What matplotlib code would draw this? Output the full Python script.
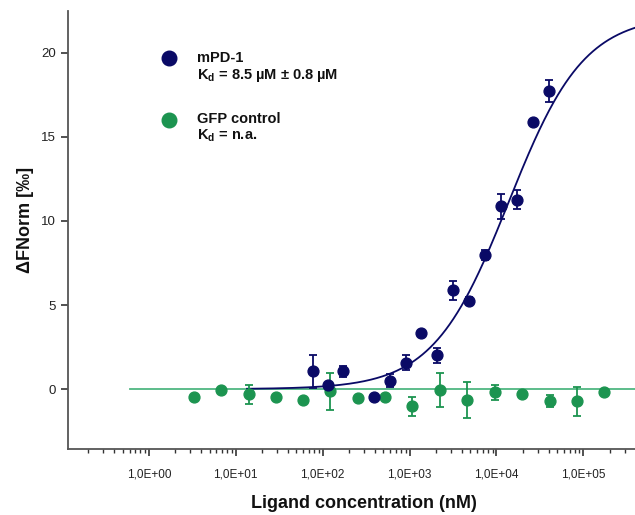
import numpy as np
import matplotlib
matplotlib.use("Agg")
import matplotlib.pyplot as plt
from matplotlib.ticker import FixedLocator, FixedFormatter, LogLocator, NullFormatter

# ---------------- data ----------------
# mPD-1 (ligand concentration in nM, dFNorm in permille, error)
mpd1_conc = [76.5, 114, 172, 390, 595, 900, 1370, 2090, 3180, 4850, 7400, 11200, 17100, 26100, 40500]
mpd1_val = [1.05, 0.26, 1.05, -0.45, 0.50, 1.58, 3.36, 2.00, 5.87, 5.24, 8.00, 10.87, 11.27, 15.90, 17.70]
mpd1_err = [1.00, 0.00, 0.30, 0.00, 0.40, 0.45, 0.00, 0.47, 0.55, 0.25, 0.30, 0.73, 0.55, 0.00, 0.65]

# GFP control
gfp_conc = [3.3, 6.8, 14.2, 29, 59, 122, 252, 521, 1077, 2222, 4590, 9550, 19770, 40800, 84100, 172000]
gfp_val = [-0.49, -0.06, -0.30, -0.45, -0.65, -0.14, -0.55, -0.49, -1.03, -0.06, -0.63, -0.20, -0.30, -0.73, -0.73, -0.20]
gfp_err = [0.00, 0.00, 0.56, 0.00, 0.00, 1.09, 0.00, 0.00, 0.58, 1.00, 1.08, 0.46, 0.00, 0.36, 0.86, 0.00]

# fit parameters (hyperbolic binding model as drawn)
fit_fmax = 22.24
fit_k_nM = 13800
fit_range = (13.5, 4.0e5)
gfp_line_level = 0.0
gfp_line_range = (0.6, 4.0e5)

xtick_vals = [1e0, 1e1, 1e2, 1e3, 1e4, 1e5]
xtick_labels = ["1,0E+00", "1,0E+01", "1,0E+02", "1,0E+03", "1,0E+04", "1,0E+05"]
ytick_vals = [0, 5, 10, 15, 20]
ytick_labels = ["0", "5", "10", "15", "20"]

legend_names = ["mPD-1", "GFP control"]
legend_kd = [r"$\mathbf{K_d}$ = 8.5 µM ± 0.8 µM", r"$\mathbf{K_d}$ = n.a."]

# ---------------- style ----------------
BLUE = "#0a0a66"
GREEN = "#1c9450"
GREEN_LINE = "#4fb681"
SPINE = "#555555"

plt.rcParams["font.family"] = ["Liberation Sans", "DejaVu Sans"]
plt.rcParams["mathtext.fontset"] = "custom"
plt.rcParams["mathtext.bf"] = "Liberation Sans:bold"
plt.rcParams["mathtext.rm"] = "Liberation Sans"

W, H = 635, 515
fig = plt.figure(figsize=(W / 100, H / 100), dpi=100)
ax_l, ax_r, ax_t, ax_b = 67.7, 636, 10.7, 449
ax = fig.add_axes([ax_l / W, 1 - ax_b / H, (ax_r - ax_l) / W, (ax_b - ax_t) / H])

ax.set_xscale("log")
ax.set_xlim(10 ** -0.933, 10 ** 5.605)
ax.set_ylim(-3.56, 22.5)

# fit curve
xc = np.logspace(np.log10(fit_range[0]), np.log10(fit_range[1]), 400)
ax.plot(xc, fit_fmax * xc / (fit_k_nM + xc), color=BLUE, lw=1.3, zorder=3)
# GFP line
ax.plot(gfp_line_range, [gfp_line_level, gfp_line_level], color=GREEN_LINE, lw=1.3, zorder=2)

def draw(conc, val, err, color, z):
    c = np.array(conc); v = np.array(val); e = np.array(err)
    m = e > 0
    ax.errorbar(c[m], v[m], yerr=e[m], fmt="none", ecolor=color, elinewidth=1.3,
                capsize=3.2, capthick=1.3, zorder=z)
    ax.plot(c, v, "o", color=color, ms=7.8, mec=color, zorder=z + 0.5, linestyle="none")

draw(gfp_conc, gfp_val, gfp_err, GREEN, 4)
draw(mpd1_conc, mpd1_val, mpd1_err, BLUE, 6)

# axes styling
for s in ["top", "right"]:
    ax.spines[s].set_visible(False)
for s in ["left", "bottom"]:
    ax.spines[s].set_color(SPINE)
    ax.spines[s].set_linewidth(1.3)

ax.xaxis.set_major_locator(FixedLocator(xtick_vals))
ax.xaxis.set_major_formatter(FixedFormatter(xtick_labels))
ax.xaxis.set_minor_locator(LogLocator(base=10, subs=np.arange(2, 10), numticks=20))
ax.xaxis.set_minor_formatter(NullFormatter())
ax.yaxis.set_major_locator(FixedLocator(ytick_vals))
ax.yaxis.set_major_formatter(FixedFormatter(ytick_labels))

ax.tick_params(axis="x", which="major", direction="out", length=5, width=1.2, color="#333333",
               labelsize=8.5, pad=9, labelcolor="#222222")
ax.tick_params(axis="x", which="minor", direction="out", length=3, width=1.0, color="#333333")
ax.tick_params(axis="y", which="major", direction="out", length=5, width=1.2, color="#333333",
               labelsize=9.5, pad=3.5, labelcolor="#222222")

# axis labels
fig.text(25 / W, 1 - 220 / H, "ΔFNorm [‰]", rotation=90, ha="center", va="center",
         fontsize=13, fontweight="bold", color="#111111")
fig.text(364 / W, 1 - 507.5 / H, "Ligand concentration (nM)", ha="center", va="baseline",
         fontsize=13, fontweight="bold", color="#111111")

# legend
leg_colors = [BLUE, GREEN]
leg_marker_y = [58.3, 120]
leg_text_y = [61.7, 122.7]
for name, kd, col, my, ty in zip(legend_names, legend_kd, leg_colors, leg_marker_y, leg_text_y):
    fig.lines.append(plt.Line2D([168.5 / W], [1 - my / H], marker="o", ms=10.5, color=col,
                                mec=col, transform=fig.transFigure, linestyle="none"))
    fig.text(196.7 / W, 1 - ty / H, name, ha="left", va="baseline", fontsize=10.5,
             fontweight="bold", color="#111111")
    fig.text(196.7 / W, 1 - (ty + 17) / H, kd, ha="left", va="baseline", fontsize=10.5,
             fontweight="bold", color="#111111")

fig.savefig("out.png", dpi=100)
